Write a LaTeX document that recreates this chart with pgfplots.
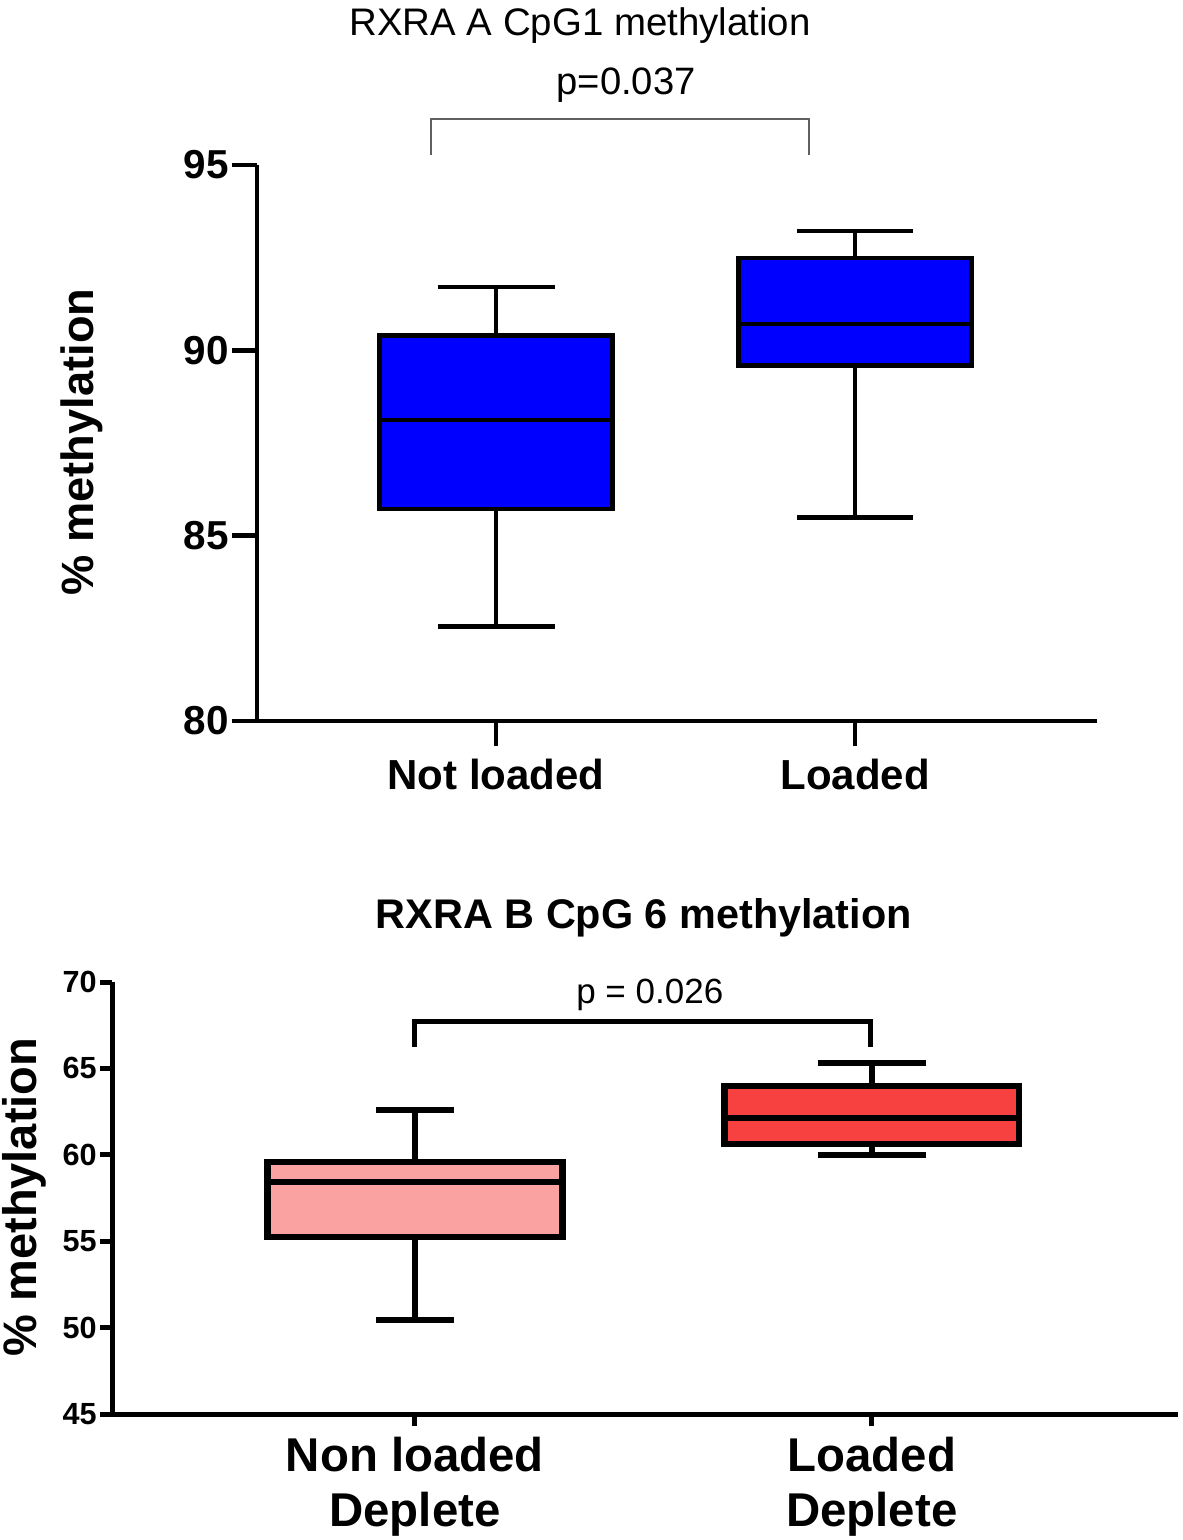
\documentclass[border=0pt]{standalone}
\usepackage{pgfplots}
\pgfplotsset{compat=1.18}
\usepackage{fontspec}
\setmainfont{Liberation Sans}
\definecolor{boxblue}{RGB}{0,0,255}
\definecolor{pinkA}{RGB}{250,162,162}
\definecolor{redB}{RGB}{247,64,64}
\definecolor{brk}{RGB}{96,96,96}

\begin{document}
\begin{tikzpicture}
\path[use as bounding box] (0,0) rectangle (591pt,-770pt);

% ---------------- Top chart ----------------
\begin{axis}[
  at={(128.5pt,-360.5pt)}, anchor=south west,
  scale only axis, width=420pt, height=278pt,
  xmin=-0.666, xmax=1.674, ymin=80, ymax=95,
  axis x line*=bottom, axis y line*=left,
  axis line style={line width=2.2pt},
  xtick={0,1}, xticklabels={Not loaded, Loaded},
  ytick={80,85,90,95},
  tick align=outside, major tick length=12.5pt,
  tick style={line width=2.2pt, black},
  /pgf/number format/assume math mode=true,
  yticklabel style={font=\bfseries\fontsize{20.2}{24}\selectfont, inner sep=1.5pt},
  xticklabel style={font=\bfseries\fontsize{21}{25}\selectfont, yshift=-3pt},
  clip=false,
  unbounded coords=jump,
]
% Not loaded: whiskers, box, median
\addplot[black, line width=2.4pt] coordinates {(0,90.41) (0,91.71) (nan,nan) (-0.163,91.71) (0.163,91.71) (nan,nan) (0,85.72) (0,82.56) (nan,nan) (-0.163,82.56) (0.163,82.56)};
\addplot[draw=black, fill=boxblue, line width=2.4pt] coordinates {(-0.325,85.72) (0.325,85.72) (0.325,90.41) (-0.325,90.41)} -- cycle;
\addplot[black, line width=2.4pt] coordinates {(-0.325,88.12) (0.325,88.12)};
% Loaded
\addplot[black, line width=2.4pt] coordinates {(1,92.49) (1,93.22) (nan,nan) (0.8385,93.22) (1.1615,93.22) (nan,nan) (1,89.60) (1,85.50) (nan,nan) (0.8385,85.50) (1.1615,85.50)};
\addplot[draw=black, fill=boxblue, line width=2.4pt] coordinates {(0.675,89.60) (1.325,89.60) (1.325,92.49) (0.675,92.49)} -- cycle;
\addplot[black, line width=2.4pt] coordinates {(0.675,90.71) (1.325,90.71)};
\draw[brk, line width=1pt] (axis cs:-0.181,95.27) -- (axis cs:-0.181,96.24) -- (axis cs:0.872,96.24) -- (axis cs:0.872,95.27);
\node[anchor=base, font=\fontsize{19.2}{23}\selectfont] at (axis cs:0.234,98.5) {RXRA A CpG1 methylation};
\node[anchor=base, font=\fontsize{19.1}{23}\selectfont] at (axis cs:0.362,96.91) {p=0.037};
\node[rotate=90, anchor=center, font=\bfseries\fontsize{22.6}{26}\selectfont] at (axis cs:-1.153,87.53) {\% methylation};
\end{axis}

% ---------------- Bottom chart ----------------
\begin{axis}[
  at={(56pt,-707pt)}, anchor=south west,
  scale only axis, width=533pt, height=216pt,
  xmin=-0.663, xmax=1.67, ymin=45, ymax=70,
  axis x line*=bottom, axis y line*=left,
  axis line style={line width=2.5pt},
  xtick={0,1}, xticklabels={{Non loaded\\Deplete},{Loaded\\Deplete}},
  ytick={45,50,55,60,65,70},
  tick align=outside, major tick length=6pt,
  tick style={line width=2.5pt, black},
  /pgf/number format/assume math mode=true,
  yticklabel style={font=\bfseries\fontsize{15.3}{18}\selectfont, inner sep=1.5pt},
  xticklabel style={align=center, font=\bfseries\fontsize{23.7}{27.5}\selectfont, inner sep=5.5pt},
  clip=false,
  unbounded coords=jump,
]
% Non loaded Deplete
\addplot[black, line width=3.2pt] coordinates {(0,59.58) (0,62.59) (nan,nan) (-0.085,62.59) (0.085,62.59) (nan,nan) (0,55.24) (0,50.44) (nan,nan) (-0.085,50.44) (0.085,50.44)};
\addplot[draw=black, fill=pinkA, line width=3.2pt] coordinates {(-0.3225,55.24) (0.3225,55.24) (0.3225,59.58) (-0.3225,59.58)} -- cycle;
\addplot[black, line width=3.2pt] coordinates {(-0.3225,58.43) (0.3225,58.43)};
% Loaded Deplete
\addplot[black, line width=3.2pt] coordinates {(1,63.98) (1,65.31) (nan,nan) (0.882,65.31) (1.118,65.31) (nan,nan) (1,60.63) (1,59.99) (nan,nan) (0.882,59.99) (1.118,59.99)};
\addplot[draw=black, fill=redB, line width=3.2pt] coordinates {(0.6775,60.63) (1.3225,60.63) (1.3225,63.98) (0.6775,63.98)} -- cycle;
\addplot[black, line width=3.2pt] coordinates {(0.6775,62.13) (1.3225,62.13)};
\draw[black, line width=2.5pt] (axis cs:0,66.24) -- (axis cs:0,67.69) -- (axis cs:0.996,67.69) -- (axis cs:0.996,66.24);
\node[anchor=base, font=\bfseries\fontsize{20.7}{24}\selectfont] at (axis cs:0.501,73.125) {RXRA B CpG 6 methylation};
\node[anchor=base, font=\fontsize{17.5}{20}\selectfont] at (axis cs:0.514,68.73) {p = 0.026};
\node[rotate=90, anchor=center, font=\bfseries\fontsize{23.5}{27}\selectfont] at (axis cs:-0.854,57.56) {\% methylation};
\end{axis}
\end{tikzpicture}
\end{document}
